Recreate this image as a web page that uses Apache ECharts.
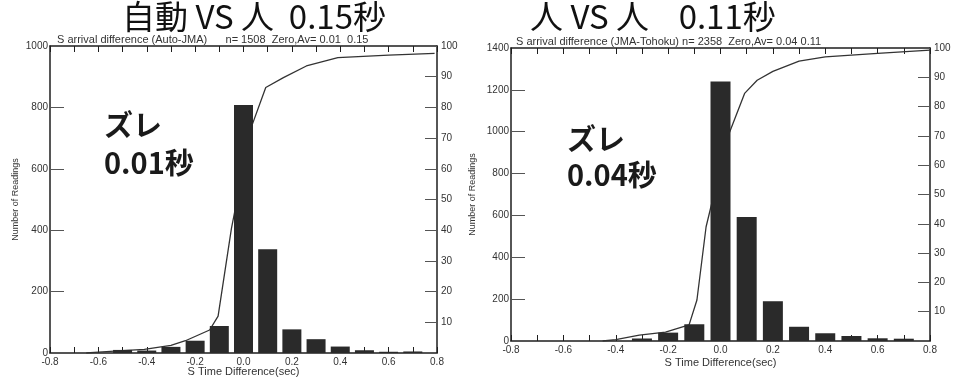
<!DOCTYPE html>
<html><head><meta charset="utf-8">
<script src="https://cdn.jsdelivr.net/npm/echarts@6/dist/echarts.min.js"></script>
<style>html,body{margin:0;padding:0;background:#fff}#c{width:964px;height:379px}</style>
</head><body><div id="c"></div>
<script>
// ---- data ----
const binsL = [-0.5, -0.4, -0.3, -0.2, -0.1, 0.0, 0.1, 0.2, 0.3, 0.4, 0.5, 0.6, 0.7];
const countsL = [10, 8, 20, 40, 88, 808, 338, 77, 45, 21, 9, 4, 5];
const cumXL = [-0.65, -0.6, -0.5, -0.41, -0.3, -0.24, -0.14, -0.105, -0.05, 0.032, 0.092, 0.165, 0.26, 0.39, 0.6, 0.79];
const cumYL = [0, 0.3, 0.8, 1.2, 2.5, 4, 7.5, 12, 40.5, 73.5, 86.5, 89.7, 93.5, 96.2, 97, 97.6];

const binsR = [-0.3, -0.2, -0.1, 0.0, 0.1, 0.2, 0.3, 0.4, 0.5, 0.6, 0.7];
const countsR = [12, 40, 80, 1240, 592, 190, 68, 37, 24, 13, 11];
const cumXR = [-0.45, -0.4, -0.31, -0.21, -0.12, -0.09, -0.055, 0.028, 0.092, 0.14, 0.2, 0.3, 0.4, 0.6, 0.8];
const cumYR = [0, 0.5, 2, 3, 5.5, 14, 39, 69.7, 84.5, 89, 92, 95.5, 97, 98.2, 99.3];

const titleL = '自動 VS 人  0.15秒';
const titleR = '人 VS 人    0.11秒';
const subL = 'S arrival difference (Auto-JMA)      n= 1508  Zero,Av= 0.01  0.15';
const subR = 'S arrival difference (JMA-Tohoku) n= 2358  Zero,Av= 0.04 0.11';
const noteL = ['ズレ', '0.01秒'];
const noteR = ['ズレ', '0.04秒'];
const xName = 'S Time Difference(sec)';
const yName = 'Number of Readings';

// ---- helpers ----
const ink = '#1e1e1e';
const lab = {color: '#333', fontFamily: 'Liberation Sans, Arial', fontSize: 10};
const pair = (xs, ys) => xs.map((x, i) => [x, ys[i]]);

function xAxes(gi, nameGap) {
  const base = {
    type: 'value', gridIndex: gi, min: -0.8, max: 0.8, interval: 0.1,
    axisLine: {onZero: false, lineStyle: {color: ink, width: 1.5}},
    splitLine: {show: false},
    axisTick: {inside: true, length: 6, lineStyle: {color: ink}}
  };
  return [
    Object.assign({}, base, {
      position: 'bottom',
      name: xName, nameLocation: 'middle', nameGap: nameGap, nameMoveOverlap: false,
      nameTextStyle: Object.assign({}, lab, {fontSize: 11}),
      axisLabel: Object.assign({}, lab, {margin: 4,
        formatter: v => (Math.round(v * 10) % 2 === 0) ? (Math.round(v * 10) / 10).toFixed(1) : ''})
    }),
    Object.assign({}, base, {position: 'top', axisLabel: {show: false}})
  ];
}
function yAxes(gi, max, interval, nameGap) {
  return [
    {type: 'value', gridIndex: gi, position: 'left', min: 0, max: max, interval: interval,
      name: yName, nameLocation: 'middle', nameGap: nameGap, nameMoveOverlap: false,
      nameTextStyle: Object.assign({}, lab, {fontSize: 9}),
      axisLine: {show: true, onZero: false, lineStyle: {color: ink, width: 1.5}},
      axisTick: {show: true, inside: true, length: 14, lineStyle: {color: '#555'}},
      splitLine: {show: false},
      axisLabel: Object.assign({}, lab, {margin: 2, formatter: v => String(v)})},
    {type: 'value', gridIndex: gi, position: 'right', min: 0, max: 100, interval: 10,
      axisLine: {show: true, onZero: false, lineStyle: {color: ink, width: 1.5}},
      axisTick: {show: true, inside: true, length: 12, lineStyle: {color: '#555'}},
      splitLine: {show: false},
      axisLabel: Object.assign({}, lab, {margin: 4, formatter: v => v === 0 ? '' : String(v)})}
  ];
}

const chart = echarts.init(document.getElementById('c'));
const titleFont = {fontFamily: 'Noto Sans CJK JP', fontSize: 33, fontWeight: 'normal', fill: '#111'};
const noteFont = {fontFamily: 'Noto Sans CJK JP', fontSize: 29, fontWeight: 'bold', fill: '#1a1a1a'};
const subFont = {fontFamily: 'Liberation Sans, Arial', fontSize: 11, fill: '#333'};

chart.setOption({
  animation: false,
  backgroundColor: '#fff',
  grid: [
    {left: 50, top: 46, width: 387, height: 307, containLabel: false, outerBoundsMode: 'none'},
    {left: 511, top: 48, width: 419, height: 293, containLabel: false, outerBoundsMode: 'none'}
  ],
  xAxis: [].concat(xAxes(0, 13), xAxes(1, 16)),
  yAxis: [].concat(yAxes(0, 1000, 200, 30), yAxes(1, 1400, 200, 34)),
  series: [
    {type: 'line', xAxisIndex: 0, yAxisIndex: 1, data: pair(cumXL, cumYL), showSymbol: false,
      lineStyle: {color: '#333', width: 1.3}, z: 1},
    {type: 'bar', xAxisIndex: 0, yAxisIndex: 0, data: pair(binsL, countsL), barWidth: 19,
      itemStyle: {color: '#2a2a2a'}, z: 2},
    {type: 'line', xAxisIndex: 2, yAxisIndex: 3, data: pair(cumXR, cumYR), showSymbol: false,
      lineStyle: {color: '#333', width: 1.3}, z: 1},
    {type: 'bar', xAxisIndex: 2, yAxisIndex: 2, data: pair(binsR, countsR), barWidth: 20,
      itemStyle: {color: '#2a2a2a'}, z: 2}
  ],
  graphic: [
    {type: 'text', left: 122, top: 0, style: Object.assign({text: titleL}, titleFont)},
    {type: 'text', left: 530, top: 0, style: Object.assign({text: titleR}, titleFont)},
    {type: 'text', left: 57, top: 34, style: Object.assign({text: subL}, subFont)},
    {type: 'text', left: 516, top: 36, style: Object.assign({text: subR}, subFont)},
    {type: 'text', left: 104, top: 110, style: Object.assign({text: noteL[0]}, noteFont)},
    {type: 'text', left: 104, top: 148, style: Object.assign({text: noteL[1]}, noteFont)},
    {type: 'text', left: 567, top: 124, style: Object.assign({text: noteR[0]}, noteFont)},
    {type: 'text', left: 567, top: 160, style: Object.assign({text: noteR[1]}, noteFont)}
  ]
});
</script></body></html>
